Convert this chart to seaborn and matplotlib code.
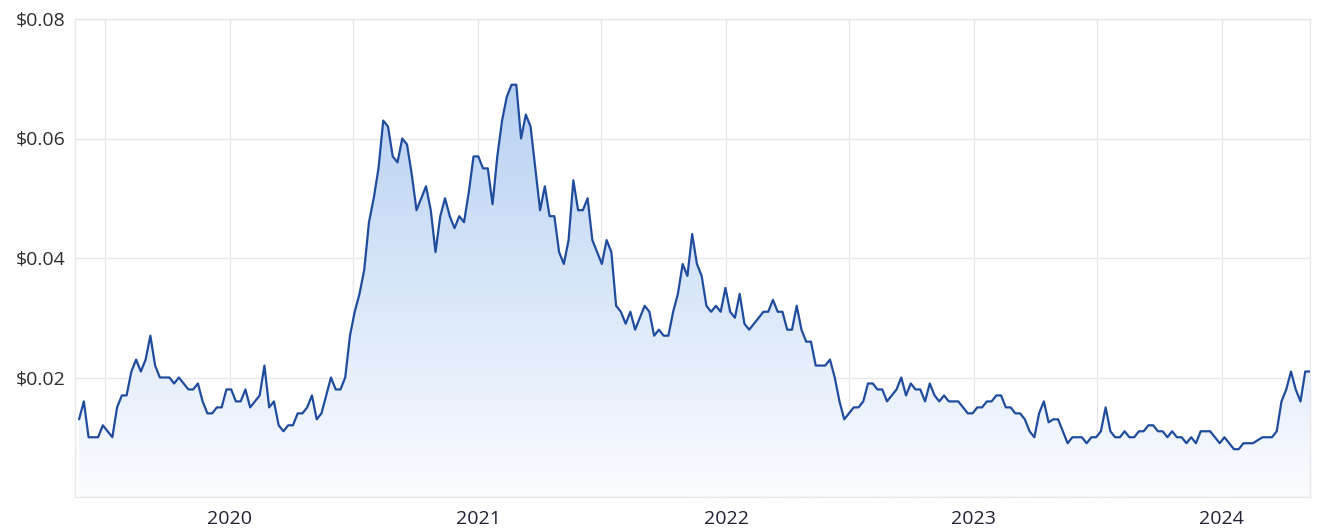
import numpy as np
import pandas as pd
import matplotlib
matplotlib.use("Agg")
import matplotlib.pyplot as plt
import matplotlib.dates as mdates
from matplotlib.colors import LinearSegmentedColormap
from matplotlib.ticker import FuncFormatter
import seaborn as sns

# weekly closing price (AUD)
price_2019_20 = [0.013, 0.016, 0.010, 0.010, 0.010, 0.012, 0.011, 0.010, 0.015, 0.017,
                 0.017, 0.021, 0.023, 0.021, 0.023, 0.027, 0.022, 0.020, 0.020, 0.020,
                 0.019, 0.020, 0.019, 0.018, 0.018, 0.019, 0.016, 0.014, 0.014, 0.015,
                 0.015, 0.018, 0.018, 0.016, 0.016, 0.018, 0.015, 0.016, 0.017, 0.022,
                 0.015, 0.016, 0.012, 0.011, 0.012, 0.012, 0.014, 0.014, 0.015, 0.017,
                 0.013, 0.014, 0.017, 0.020, 0.018, 0.018, 0.020, 0.027, 0.031, 0.034,
                 0.038]
price_2020_21 = [0.046, 0.050, 0.055, 0.063, 0.062, 0.057, 0.056, 0.060, 0.059, 0.054,
                 0.048, 0.050, 0.052, 0.048, 0.041, 0.047, 0.050, 0.047, 0.045, 0.047,
                 0.046, 0.051, 0.057, 0.057, 0.055, 0.055, 0.049, 0.057, 0.063, 0.067,
                 0.069, 0.069, 0.060, 0.064, 0.062, 0.055, 0.048, 0.052, 0.047, 0.047,
                 0.041, 0.039, 0.043, 0.053, 0.048, 0.048, 0.050, 0.043, 0.041, 0.039,
                 0.043, 0.041, 0.032, 0.031, 0.029, 0.031, 0.028, 0.030, 0.032, 0.031]
price_2022 = [0.027, 0.028, 0.027, 0.027, 0.031, 0.034, 0.039, 0.037, 0.044, 0.039,
              0.037, 0.032, 0.031, 0.032, 0.031, 0.035, 0.031, 0.030, 0.034, 0.029,
              0.028, 0.029, 0.030, 0.031, 0.031, 0.033, 0.031, 0.031, 0.028, 0.028,
              0.032, 0.028, 0.026, 0.026, 0.022, 0.022, 0.022, 0.023, 0.020, 0.016,
              0.013, 0.014, 0.015, 0.015, 0.016, 0.019, 0.019, 0.018, 0.018, 0.016,
              0.017, 0.018, 0.020, 0.017, 0.019, 0.018, 0.018, 0.016, 0.019, 0.017,
              0.016, 0.017, 0.016, 0.016, 0.016]
price_2023_24 = [0.015, 0.014, 0.014, 0.015, 0.015, 0.016, 0.016, 0.017, 0.017, 0.015,
                 0.015, 0.014, 0.014, 0.013, 0.011, 0.010, 0.014, 0.016, 0.0125, 0.013,
                 0.013, 0.011, 0.009, 0.010, 0.010, 0.010, 0.009, 0.010, 0.010, 0.011,
                 0.015, 0.011, 0.010, 0.010, 0.011, 0.010, 0.010, 0.011, 0.011, 0.012,
                 0.012, 0.011, 0.011, 0.010, 0.011, 0.010, 0.010, 0.009, 0.010, 0.009,
                 0.011, 0.011, 0.011, 0.010, 0.009, 0.010, 0.009, 0.008, 0.008, 0.009,
                 0.009, 0.009, 0.0095, 0.010, 0.010, 0.010, 0.011, 0.016, 0.018, 0.021,
                 0.018, 0.016, 0.021, 0.021]
start_date = "2019-05-24"
y_ticks = [0.02, 0.04, 0.06, 0.08]

price = price_2019_20 + price_2020_21 + price_2022 + price_2023_24
df = pd.DataFrame({"date": pd.date_range(start_date, periods=len(price), freq="7D"),
                   "price": price})

sns.set_style("white")
plt.rcParams["font.family"] = ["Open Sans", "DejaVu Sans"]

fig = plt.figure(figsize=(13.2, 5.3), dpi=100)
ax = fig.add_axes([75 / 1320, 1 - 497 / 530, 1235 / 1320, 478 / 530])

line_col = "#1f4c9c"
sns.lineplot(data=df, x="date", y="price", ax=ax, color=line_col, linewidth=1.6, zorder=3)

# gradient area under the line
poly = ax.fill_between(df["date"], df["price"], 0, color="none", zorder=1)
cmap = LinearSegmentedColormap.from_list("fade", ["#fbfcff", "#b8d1f2"])
x0 = mdates.date2num(df["date"].iloc[0])
x1 = mdates.date2num(df["date"].iloc[-1])
grad = np.linspace(0, 1, 256).reshape(-1, 1)
im = ax.imshow(grad, cmap=cmap, origin="lower", aspect="auto",
               extent=[x0, x1, 0, max(price)], zorder=2)
im.set_clip_path(poly.get_paths()[0], transform=ax.transData)

ax.set_xlim(x0 - 6, x1)
ax.set_ylim(0, 0.08)
ax.set_aspect("auto")

# grid: every half year, labels only on January
half_years = pd.date_range("2019-07-01", "2024-01-01", freq="6MS")
ax.set_xticks(half_years)
ax.set_xticklabels(["" if d.month == 7 else str(d.year) for d in half_years])
ax.set_yticks(y_ticks)
ax.yaxis.set_major_formatter(FuncFormatter(lambda v, p: f"${v:.2f}"))

grid_col = "#e8e8ec"
ax.grid(True, color=grid_col, linewidth=1)
ax.set_axisbelow(True)
for s in ax.spines.values():
    s.set_visible(True)
    s.set_color(grid_col)
    s.set_linewidth(1)

ax.tick_params(axis="y", length=0, pad=7, labelsize=14, labelcolor="#2e2e2e")
ax.tick_params(axis="x", length=0, pad=9, labelsize=14, labelcolor="#1e2233")
ax.set_xlabel("")
ax.set_ylabel("")

fig.savefig("out.png", dpi=100)
